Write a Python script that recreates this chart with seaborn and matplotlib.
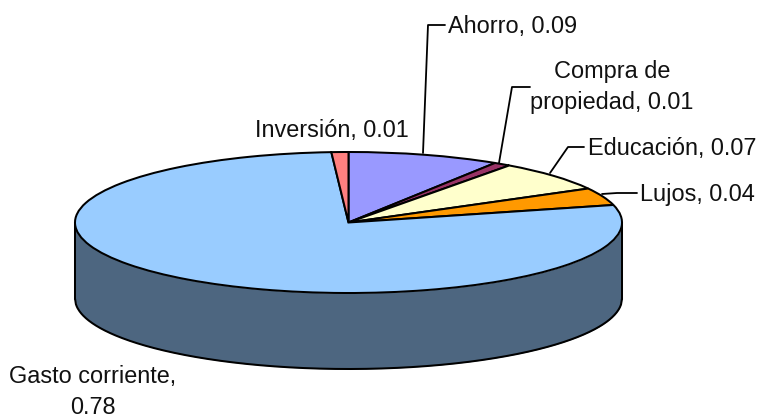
import numpy as np
import matplotlib
matplotlib.use("Agg")
import matplotlib.pyplot as plt
import seaborn as sns

categories = ["Ahorro", "Compra de\npropiedad", "Educación", "Lujos", "Gasto corriente,\n", "Inversión"]
values = [0.09, 0.01, 0.07, 0.04, 0.78, 0.01]
colors = ["#9999FF", "#993366", "#FFFFCC", "#FF9900", "#99CCFF", "#FF8080"]

sns.set_theme(style="white")
plt.rcParams["font.family"] = ["Liberation Sans", "DejaVu Sans"]

W, H = 760, 418
cx, cy = 348.5, 222.5    # pie centre in pixels
rx, ry = 273.5, 70.5     # ellipse radii in pixels
depth = 76 / ry          # height of the side wall, in pie units
side_color = "#4D6680"
lw = 1.45

fig = plt.figure(figsize=(W / 100, H / 100), dpi=100)
ax = fig.add_axes([0, 0, 1, 1])

# side wall of the disc
x = np.linspace(-1, 1, 600)
low = -np.sqrt(1 - x**2)
ax.fill_between(x, low, low - depth, color=side_color, linewidth=0, zorder=1)
ax.plot(x, low - depth, color="black", lw=lw, zorder=2)
ax.plot([-1, -1], [0, -depth], color="black", lw=lw, zorder=2)
ax.plot([1, 1], [0, -depth], color="black", lw=lw, zorder=2)

# top of the disc, squashed by turning off the equal aspect
ax.pie(values, colors=colors, startangle=90, counterclock=False,
       wedgeprops={"edgecolor": "black", "linewidth": lw, "zorder": 3})
ax.set_aspect("auto")
ax.set_xlim(-cx / rx, (W - cx) / rx)
ax.set_ylim((cy - H) / ry, cy / ry)
ax.axis("off")

# overlay in pixel coordinates for labels and leader lines
over = fig.add_axes([0, 0, 1, 1])
over.set_xlim(0, W)
over.set_ylim(H, 0)
over.axis("off")
over.patch.set_alpha(0)

leaders = [
    ([423, 428, 445], [153, 25, 25]),
    ([499, 512, 530], [163, 87, 87]),
    ([550, 568, 584], [173, 147, 147]),
    ([602, 617, 637], [194, 193, 193]),
]
for lx, ly in leaders:
    over.plot(lx, ly, color="black", lw=1.3)

label_pos = [(448, 26, "left"), (612, 87, "center"), (588, 148, "left"),
             (640, 194, "left"), (93, 392, "center"), (255, 130, "left")]
for name, val, (tx, ty, ha) in zip(categories, values, label_pos):
    if name.endswith("\n"):
        text = f"{name}{val:.2f}"
    else:
        text = f"{name}, {val:.2f}"
    over.text(tx, ty, text, ha=ha, va="center", multialignment="center",
              fontsize=16.9, color="#111111", linespacing=1.4)

fig.savefig("out.png", dpi=100)
